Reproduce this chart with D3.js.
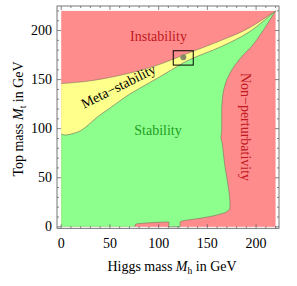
<!DOCTYPE html>
<html>
<head>
<meta charset="utf-8">
<script src="https://cdn.jsdelivr.net/npm/d3@7"></script>
<style>
body { margin: 0; background: #fff; }
svg text { font-family: "Liberation Serif", "Times New Roman", serif; }
</style>
</head>
<body>
<script>
// tick values
var xTicks = [0, 50, 100, 150, 200];
var yTicks = [0, 50, 100, 150, 200];
var minorTicks = d3.range(0, 230, 10);

// boundary between instability and meta-stability (Mh, Mt)
var upperMeta = [[0, 146], [28, 148.5], [62, 154.7], [96, 163.8], [130, 176.8], [165, 190.3], [192, 202.2], [220, 220]];
// boundary between meta-stability and stability
var lowerMeta = [[0, 94.5], [4, 93.5], [12, 95], [20, 98], [28, 104], [36, 111], [50, 121], [70, 135], [91, 147], [110, 158], [130, 169.5], [165, 184], [192, 198], [220, 220]];
// non-perturbativity boundary, top to bottom
var nonPert = [[220, 220], [198, 187], [184, 172], [174, 158], [168.1, 144.5], [165.3, 130], [164.7, 113.9], [164.7, 98.6], [164, 90], [165, 86], [168.1, 61.2], [171.5, 40.9], [173.2, 24.2], [172.5, 18], [169.8, 15.4], [159.6, 12], [142.4, 8.7], [125.3, 6.2], [122.5, 5.4]];
// small red strip along the bottom
var bottomEdge = [[122, 5.2], [122, 0], [110.5, 0], [110.5, 4.9], [109, 5], [90, 4.1], [78, 3.2], [76, 2.4], [75.6, 0], [0, 0]];

var higgs = [125.3, 172.7];
var boxX = [115, 135.5], boxY = [164.8, 179.4];

var w = 297, h = 286;
var fs = 14;

var x = d3.scaleLinear().domain([-4.3, 223.5]).range([57, 279]);
var y = d3.scaleLinear().domain([-1.5, 225]).range([228.3, 6]);

var svg = d3.select("body").append("svg")
	.attr("width", w)
	.attr("height", h);

function line(pts) {
	return d3.line()
		.x(function(d) { return x(d[0]); })
		.y(function(d) { return y(d[1]); })
		.curve(d3.curveCatmullRom.alpha(0.5))(pts);
}
function lin(pts) {
	return d3.line()
		.x(function(d) { return x(d[0]); })
		.y(function(d) { return y(d[1]); })(pts);
}
function join(segs) {
	return segs.map(function(s, i) { return i ? s.replace(/^M/, "L") : s; }).join("") + "Z";
}

// red background = instability / non-perturbativity
svg.append("rect")
	.attr("x", x(0)).attr("y", y(220))
	.attr("width", x(220) - x(0))
	.attr("height", y(0) - y(220))
	.attr("fill", "#ff8c8c");

// meta-stability band
svg.append("path")
	.attr("d", join([line(upperMeta), line(lowerMeta.slice().reverse())]))
	.attr("fill", "#ffff8c");

// stability region
svg.append("path")
	.attr("d", join([lin([[0, 0]]), line(lowerMeta), line(nonPert), lin(bottomEdge)]))
	.attr("fill", "#8cff8c");

// boundary lines
var bnd = svg.append("g")
	.attr("fill", "none")
	.attr("stroke", "#6e6e5a")
	.attr("stroke-opacity", 0.7)
	.attr("stroke-width", 0.8);
bnd.append("path").attr("d", line(upperMeta));
bnd.append("path").attr("d", line(lowerMeta));
bnd.append("path").attr("d", line(nonPert) + lin(bottomEdge.slice(0, 9)).replace(/^M/, "L"));

// frame
svg.append("rect")
	.attr("x", x.range()[0]).attr("y", y.range()[1])
	.attr("width", x.range()[1] - x.range()[0])
	.attr("height", y.range()[0] - y.range()[1])
	.attr("fill", "none")
	.attr("stroke", "#555")
	.attr("stroke-width", 0.8);

// ticks on all four sides, pointing in
var tk = svg.append("g").attr("stroke", "#555").attr("stroke-width", 0.7);
minorTicks.forEach(function(v) {
	var len = (v % 50 === 0) ? 4 : 2;
	tk.append("line").attr("x1", x(v)).attr("x2", x(v)).attr("y1", y.range()[0]).attr("y2", y.range()[0] - len);
	tk.append("line").attr("x1", x(v)).attr("x2", x(v)).attr("y1", y.range()[1]).attr("y2", y.range()[1] + len);
	tk.append("line").attr("y1", y(v)).attr("y2", y(v)).attr("x1", x.range()[0]).attr("x2", x.range()[0] + len);
	tk.append("line").attr("y1", y(v)).attr("y2", y(v)).attr("x1", x.range()[1]).attr("x2", x.range()[1] - len);
});

svg.selectAll(".xt").data(xTicks).enter().append("text")
	.attr("x", function(d) { return x(d); })
	.attr("y", 248)
	.attr("text-anchor", "middle")
	.attr("font-size", fs)
	.text(function(d) { return d; });

svg.selectAll(".yt").data(yTicks).enter().append("text")
	.attr("x", 52)
	.attr("y", function(d) { return y(d) + 4.5; })
	.attr("text-anchor", "end")
	.attr("font-size", fs)
	.text(function(d) { return d; });

// higgs point and box
svg.append("rect")
	.attr("x", x(boxX[0])).attr("y", y(boxY[1]))
	.attr("width", x(boxX[1]) - x(boxX[0]))
	.attr("height", y(boxY[0]) - y(boxY[1]))
	.attr("fill", "none").attr("stroke", "#000").attr("stroke-width", 1);
svg.append("circle")
	.attr("cx", x(higgs[0])).attr("cy", y(higgs[1]))
	.attr("r", 3).attr("fill", "#8a8a6a");

// region labels
svg.append("text").attr("x", 158.5).attr("y", 41).attr("text-anchor", "middle")
	.attr("font-size", fs).attr("fill", "#c0181e").text("Instability");
svg.append("text").attr("x", 158).attr("y", 134.5).attr("text-anchor", "middle")
	.attr("font-size", fs).attr("fill", "#22a022").text("Stability");
svg.append("text").attr("transform", "translate(120.5,90.5) rotate(-26.5)").attr("text-anchor", "middle")
	.attr("font-size", fs).attr("fill", "#000").text("Meta\u2212stability");
svg.append("text").attr("transform", "translate(241,127) rotate(90)").attr("text-anchor", "middle")
	.attr("font-size", fs).attr("fill", "#c0181e").text("Non\u2212perturbativity");

// axis labels
var xl = svg.append("text").attr("x", 172).attr("y", 271).attr("text-anchor", "middle").attr("font-size", fs);
xl.append("tspan").text("Higgs mass ");
xl.append("tspan").attr("font-style", "italic").text("M");
xl.append("tspan").attr("font-size", 9.5).attr("dy", 3).text("h");
xl.append("tspan").attr("dy", -3).text(" in GeV");

var yl = svg.append("text").attr("transform", "translate(23,119) rotate(-90)").attr("text-anchor", "middle").attr("font-size", fs);
yl.append("tspan").text("Top mass ");
yl.append("tspan").attr("font-style", "italic").text("M");
yl.append("tspan").attr("font-size", 9.5).attr("dy", 3).text("t");
yl.append("tspan").attr("dy", -3).text(" in GeV");
</script>
</body>
</html>
